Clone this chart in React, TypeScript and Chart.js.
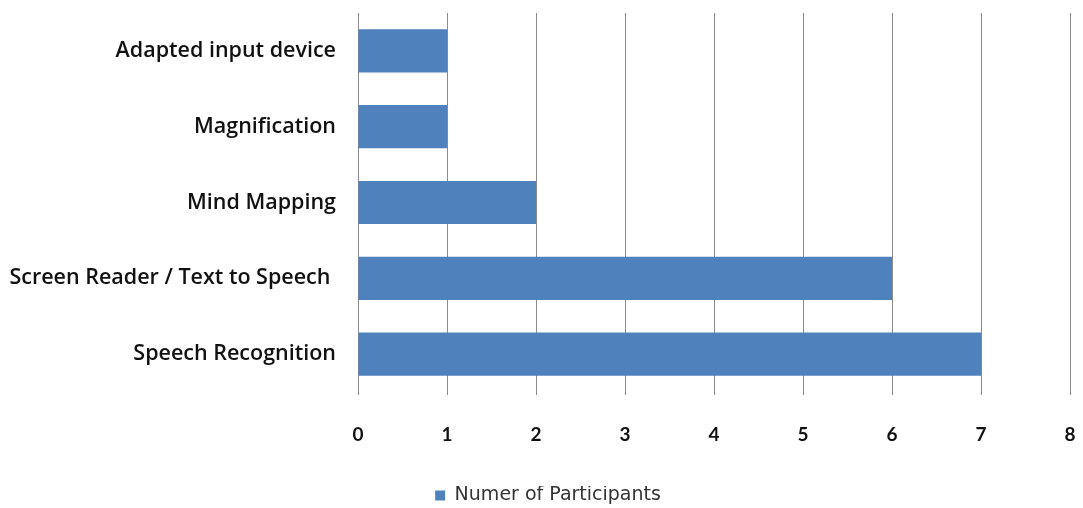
import React, { useEffect, useRef } from "react";
import { Chart, registerables } from "chart.js";

Chart.register(...registerables);

const categories = [
  "Adapted input device",
  "Magnification",
  "Mind Mapping",
  "Screen Reader / Text to Speech ",
  "Speech Recognition",
];
const participants = [1, 1, 2, 6, 7];
const seriesLabel = "Numer of Participants";
const xMin = 0;
const xMax = 8;

const legendShift = {
  id: "legendShift",
  afterLayout(chart: any) {
    const l = chart.legend;
    if (l) {
      l.left += 13;
      l.right += 13;
    }
  },
};

export default function App() {
  const ref = useRef<HTMLCanvasElement | null>(null);

  useEffect(() => {
    if (!ref.current) return;
    const chart = new Chart(ref.current, {
      type: "bar",
      data: {
        labels: categories,
        datasets: [
          {
            label: seriesLabel,
            data: participants,
            backgroundColor: "#4f81bd",
            borderColor: "#4f81bd",
            borderWidth: 0,
            categoryPercentage: 1,
            barPercentage: 0.57,
          },
        ],
      },
      plugins: [legendShift],
      options: {
        indexAxis: "y",
        animation: false,
        responsive: false,
        maintainAspectRatio: false,
        layout: { padding: { top: 13, left: 0, right: 13, bottom: -7 } },
        plugins: {
          tooltip: { enabled: false },
          legend: {
            position: "bottom",
            labels: {
              boxWidth: 10,
              boxHeight: 10,
              padding: 0,
              color: "#333333",
              font: { family: "'DejaVu Sans'", size: 19 },
            },
          },
        },
        scales: {
          x: {
            min: xMin,
            max: xMax,
            ticks: {
              stepSize: 1,
              color: "#111111",
              padding: 28,
              font: { family: "Lato", size: 19, weight: "bold" },
            },
            grid: {
              color: "#8a8a8a",
              lineWidth: 1,
              drawTicks: true,
              tickLength: 3,
            },
            border: { display: false },
            afterFit: (scale: any) => {
              scale.height = 94;
              scale.paddingLeft = 0;
              scale.paddingRight = 0;
            },
          },
          y: {
            ticks: {
              color: "#111111",
              padding: 22,
              font: { family: "'Open Sans'", size: 21.5, weight: "600" },
            },
            grid: { display: false, drawTicks: false },
            border: { display: true, color: "#8a8a8a", width: 1 },
            afterFit: (scale: any) => {
              scale.width = 358;
              scale.paddingTop = 0;
              scale.paddingBottom = 0;
            },
          },
        },
      },
    });
    return () => chart.destroy();
  }, []);

  return (
    <div style={{ position: "fixed", left: 0, top: 0, width: 1083, height: 508, background: "#ffffff" }}>
      <canvas ref={ref} width={1083} height={508} style={{ display: "block", width: 1083, height: 508 }} />
    </div>
  );
}
